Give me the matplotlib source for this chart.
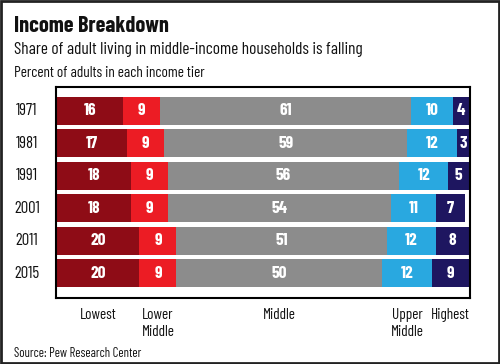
import matplotlib
matplotlib.use("Agg")
import matplotlib.pyplot as plt
from matplotlib.patches import Rectangle
import matplotlib.transforms as mtransforms

years = ["1971", "1981", "1991", "2001", "2011", "2015"]
tiers = ["Lowest", "Lower\nMiddle", "Middle", "Upper\nMiddle", "Highest"]
lowest = [16, 17, 18, 18, 20, 20]
lower_middle = [9, 9, 9, 9, 9, 9]
middle = [61, 59, 56, 54, 51, 50]
upper_middle = [10, 12, 12, 11, 12, 12]
highest = [4, 3, 5, 7, 8, 9]

colors = ["#8e0c16", "#ec1c24", "#8c8c8c", "#29a8e0", "#1e1660"]
FONT = ["Barlow Condensed", "DejaVu Sans"]
plt.rcParams["font.family"] = FONT

fig = plt.figure(figsize=(5.0, 3.64), dpi=100)
ax = fig.add_axes([56/500, 1-298/364, 414/500, 211/364])

series = [lowest, lower_middle, middle, upper_middle, highest]
left = [0]*len(years)
for vals, col in zip(series, colors):
    ax.barh(range(len(years)), vals, left=left, height=0.86, color=col, edgecolor="none")
    for i, v in enumerate(vals):
        ax.text(left[i] + v/2, i, str(v), ha="center", va="center", color="white",
                fontsize=12.5, fontweight="bold")
    left = [l + v for l, v in zip(left, vals)]

ax.set_xlim(-0.24, 100.24)
ax.set_ylim(5.77, -0.74)
ax.set_xticks([])
ax.set_yticks([])
for s in ax.spines.values():
    s.set_linewidth(1.5)
    s.set_color("black")

trans_y = mtransforms.blended_transform_factory(fig.transFigure, ax.transData)
for i, y in enumerate(years):
    ax.text(27/500, i, y, transform=trans_y, ha="center", va="center", fontsize=12, color="#111111")

# tier labels centered under last row's segments
last = [s[-1] for s in series]
cum = 0
trans_x = mtransforms.blended_transform_factory(ax.transData, fig.transFigure)
for name, v in zip(tiers, last):
    ax.text(cum + v/2, 1-308/364, name, transform=trans_x, ha="center", va="top",
            fontsize=11, color="#111111", linespacing=1.3)
    cum += v

fig.text(14/500, 1-32/364, "Income Breakdown", fontsize=16, fontweight="bold", ha="left", va="baseline", color="#111111")
fig.text(14/500, 1-54/364, "Share of adult living in middle-income households is falling", fontsize=12.5, ha="left", va="baseline", color="#111111")
fig.text(14/500, 1-77/364, "Percent of adults in each income tier", fontsize=11, ha="left", va="baseline", color="#111111")
fig.text(14/500, 1-357/364, "Source: Pew Research Center", fontsize=9.2, ha="left", va="baseline", color="#111111")

fig.patches.append(Rectangle((0.002, 0.003), 0.996, 0.994, transform=fig.transFigure,
                             fill=False, edgecolor="#222222", linewidth=2))

fig.savefig("out.png", dpi=100)
